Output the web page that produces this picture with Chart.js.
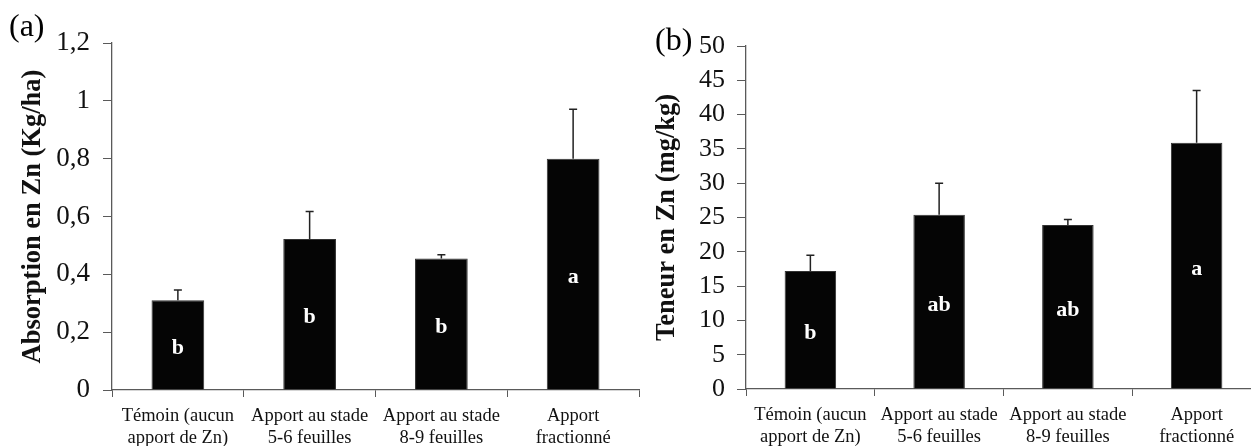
<!DOCTYPE html>
<html>
<head>
<meta charset="utf-8">
<script src="https://cdn.jsdelivr.net/npm/chart.js@4.4.0/dist/chart.umd.min.js"></script>
<style>
  html, body { margin: 0; padding: 0; background: #fff; overflow: hidden; width: 1251px; height: 446px; position: relative; }
  canvas { position: absolute; top: 0; }
  #chartA { left: 0; }
  #chartB { left: 640px; }
</style>
</head>
<body>
<canvas id="chartA" width="640" height="446"></canvas>
<canvas id="chartB" width="621" height="446"></canvas>
<script>
const categories = [
  ['Témoin (aucun', 'apport de Zn)'],
  ['Apport au stade', '5-6 feuilles'],
  ['Apport au stade', '8-9 feuilles'],
  ['Apport', 'fractionné']
];

// (a) Absorption en Zn (Kg/ha)
const absorption = [0.31, 0.522, 0.455, 0.80];
const absorptionErr = [0.036, 0.095, 0.013, 0.171];
const absorptionGroups = ['b', 'b', 'b', 'a'];
const absorptionTicks = [0, 0.2, 0.4, 0.6, 0.8, 1, 1.2];
const absorptionTickLabels = ['0', '0,2', '0,4', '0,6', '0,8', '1', '1,2'];

// (b) Teneur en Zn (mg/kg)
const teneur = [17.2, 25.4, 23.9, 35.9];
const teneurErr = [2.3, 4.6, 0.8, 7.6];
const teneurGroups = ['b', 'ab', 'ab', 'a'];
const teneurTicks = [0, 5, 10, 15, 20, 25, 30, 35, 40, 45, 50];
const teneurTickLabels = teneurTicks.map(String);

const serif = "'Liberation Serif', 'Times New Roman', serif";
const axisGray = '#5a5a5a';

const barExtras = {
  id: 'barExtras',
  afterDatasetsDraw(chart, args, opts) {
    const ctx = chart.ctx;
    const meta = chart.getDatasetMeta(0);
    const y = chart.scales.y;
    const values = chart.data.datasets[0].data;
    ctx.save();
    // error bars (upper half only)
    ctx.strokeStyle = '#222';
    ctx.lineWidth = 1.5;
    meta.data.forEach((bar, i) => {
      const top = y.getPixelForValue(values[i]);
      const errTop = y.getPixelForValue(values[i] + opts.errors[i]);
      ctx.beginPath();
      ctx.moveTo(bar.x, top);
      ctx.lineTo(bar.x, errTop);
      ctx.moveTo(bar.x - 4, errTop);
      ctx.lineTo(bar.x + 4, errTop);
      ctx.stroke();
    });
    // group letters
    ctx.fillStyle = '#fff';
    ctx.font = 'bold 22px ' + serif;
    ctx.textAlign = 'center';
    ctx.textBaseline = 'middle';
    meta.data.forEach((bar, i) => {
      const mid = (y.getPixelForValue(values[i]) + y.getPixelForValue(0)) / 2 + 3;
      ctx.fillText(opts.groups[i], bar.x, mid);
    });
    // panel letter
    ctx.fillStyle = '#000';
    ctx.font = '32px ' + serif;
    ctx.textAlign = 'left';
    ctx.fillText(opts.panel, opts.panelX, opts.panelY);
    ctx.restore();
  }
};

function makeChart(id, cfg) {
  return new Chart(document.getElementById(id), {
    type: 'bar',
    data: {
      labels: categories,
      datasets: [{
        data: cfg.values,
        backgroundColor: '#050505',
        borderColor: '#333',
        borderWidth: 1,
        barPercentage: 0.4,
        categoryPercentage: 1
      }]
    },
    options: {
      responsive: false,
      animation: false,
      events: [],
      layout: { padding: { top: cfg.padTop, right: cfg.padRight, left: 0, bottom: 0 } },
      plugins: {
        legend: { display: false },
        tooltip: { enabled: false },
        barExtras: cfg.extras
      },
      scales: {
        x: {
          grid: { drawOnChartArea: false, tickLength: 7, color: axisGray, offset: true },
          border: { color: axisGray, width: 1.3 },
          ticks: { color: '#111', font: { family: serif, size: 18.5, lineHeight: 1.2 }, padding: 8, maxRotation: 0, autoSkip: false },
          afterFit: s => { s.height = cfg.xHeight; }
        },
        y: {
          min: 0,
          max: cfg.ticks[cfg.ticks.length - 1],
          afterBuildTicks: s => { s.ticks = cfg.ticks.map(v => ({ value: v })); },
          grid: { drawOnChartArea: false, tickLength: 9, color: axisGray },
          border: { color: axisGray, width: 1.3 },
          ticks: {
            color: '#111',
            font: { family: serif, size: cfg.tickSize },
            padding: cfg.tickPad,
            autoSkip: false,
            callback: (v, i) => cfg.tickLabels[i]
          },
          title: {
            display: true,
            text: cfg.title,
            color: '#111',
            font: { family: serif, size: 26.5, weight: 'bold', lineHeight: 1.2 },
            padding: { top: cfg.titlePad, bottom: 0 }
          },
          afterFit: s => { s.width = cfg.yWidth; }
        }
      }
    },
    plugins: [barExtras]
  });
}

makeChart('chartA', {
  values: absorption,
  ticks: absorptionTicks,
  tickLabels: absorptionTickLabels,
  title: 'Absorption en Zn (Kg/ha)',
  titlePad: 17,
  tickPad: 13,
  tickSize: 27,
  yWidth: 112,
  xHeight: 56,
  padTop: 43,
  padRight: 1,
  extras: { errors: absorptionErr, groups: absorptionGroups, panel: '(a)', panelX: 9, panelY: 28 }
});

makeChart('chartB', {
  values: teneur,
  ticks: teneurTicks,
  tickLabels: teneurTickLabels,
  title: 'Teneur en Zn (mg/kg)',
  titlePad: 11,
  tickPad: 12,
  tickSize: 26,
  yWidth: 106,
  xHeight: 57,
  padTop: 46,
  padRight: 0,
  extras: { errors: teneurErr, groups: teneurGroups, panel: '(b)', panelX: 15, panelY: 42 }
});
</script>
</body>
</html>
